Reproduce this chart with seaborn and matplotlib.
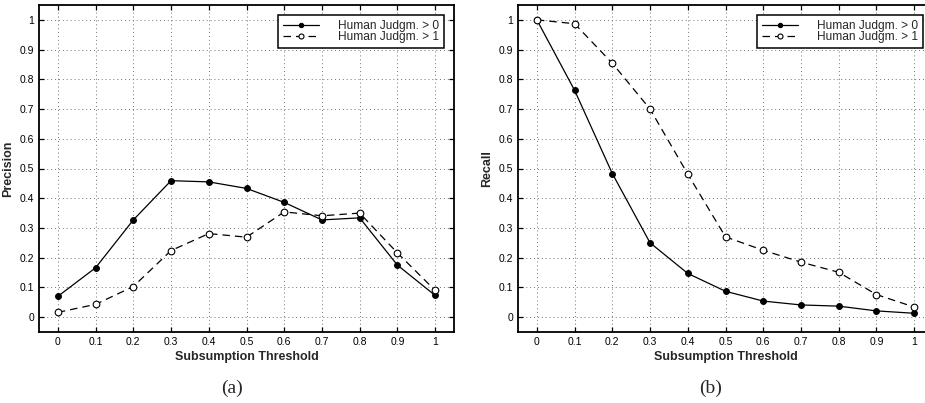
import numpy as np
import pandas as pd
import matplotlib
matplotlib.use("Agg")
import matplotlib.pyplot as plt
from matplotlib import font_manager
import seaborn as sns

thresholds = [0, 0.1, 0.2, 0.3, 0.4, 0.5, 0.6, 0.7, 0.8, 0.9, 1.0]
tick_labels = ["0", "0.1", "0.2", "0.3", "0.4", "0.5", "0.6", "0.7", "0.8", "0.9", "1"]
series_names = ["Human Judgm. > 0", "Human Judgm. > 1"]

precision_gt0 = [0.070, 0.166, 0.327, 0.459, 0.455, 0.433, 0.386, 0.327, 0.334, 0.175, 0.073]
precision_gt1 = [0.016, 0.043, 0.103, 0.224, 0.281, 0.269, 0.354, 0.341, 0.350, 0.216, 0.090]
recall_gt0 = [1.000, 0.763, 0.483, 0.250, 0.147, 0.087, 0.054, 0.041, 0.037, 0.021, 0.013]
recall_gt1 = [1.000, 0.987, 0.854, 0.700, 0.481, 0.270, 0.225, 0.185, 0.151, 0.076, 0.034]

sns.set_style("ticks")


def have(fam):
    try:
        font_manager.findfont(font_manager.FontProperties(family=fam), fallback_to_default=False)
        return True
    except Exception:
        return False


narrow = "Liberation Sans Narrow" if have("Liberation Sans Narrow") else "Liberation Sans"
plt.rcParams["font.family"] = ["Liberation Sans", "DejaVu Sans"]

fig = plt.figure(figsize=(9.25, 4.03), dpi=100)
ax_a = fig.add_axes([39 / 925, 71 / 403, 415 / 925, 327 / 403])
ax_b = fig.add_axes([518 / 925, 71 / 403, 415 / 925, 327 / 403])


def draw(ax, y0, y1, ylabel):
    df = pd.DataFrame({"x": thresholds * 2,
                       "y": list(y0) + list(y1),
                       "series": [series_names[0]] * len(thresholds) + [series_names[1]] * len(thresholds)})
    sns.lineplot(data=df[df.series == series_names[0]], x="x", y="y", ax=ax,
                 color="black", lw=0.9, marker="o", markersize=4.2,
                 markerfacecolor="black", markeredgecolor="black",
                 label=series_names[0], zorder=3)
    sns.lineplot(data=df[df.series == series_names[1]], x="x", y="y", ax=ax,
                 color="black", lw=0.9, marker="o", markersize=4.8,
                 markerfacecolor="white", markeredgecolor="black", markeredgewidth=0.8,
                 dashes=False, label=series_names[1], zorder=3)
    ax.lines[1].set_dashes([6, 4])
    ax.set_xlim(-0.05, 1.05)
    ax.set_ylim(-0.05, 1.05)
    ax.set_xticks(thresholds)
    ax.set_xticklabels(tick_labels)
    ax.set_yticks(thresholds)
    ax.set_yticklabels(tick_labels)
    for lab in ax.get_xticklabels() + ax.get_yticklabels():
        lab.set_fontfamily(narrow)
        lab.set_fontsize(7.5)
    ax.tick_params(direction="in", length=3.5, width=0.9, top=True, right=True,
                   pad=3.5, colors="black")
    ax.grid(True, linestyle=(0, (1, 3)), color="0.45", lw=0.7)
    for s in ax.spines.values():
        s.set_visible(True)
        s.set_linewidth(1.3)
        s.set_color("black")
    ax.set_xlabel("Subsumption Threshold", fontfamily=narrow, fontweight="bold", fontsize=9, labelpad=3)
    ax.set_ylabel(ylabel, fontfamily=narrow, fontweight="bold", fontsize=9, labelpad=4)
    leg = ax.legend(loc="upper right",
                    fontsize=8.6, frameon=True, fancybox=False, edgecolor="black",
                    handlelength=3.0, handletextpad=1.6, labelspacing=-0.05,
                    borderpad=0.4, borderaxespad=0.85, framealpha=1, markerscale=0.75)
    leg.get_frame().set_linewidth(1.1)


draw(ax_a, precision_gt0, precision_gt1, "Precision")
draw(ax_b, recall_gt0, recall_gt1, "Recall")

fig.text(232 / 925, 1 - 388 / 403, "(a)", family=["Liberation Serif", "DejaVu Serif"],
         fontsize=14, ha="center", va="center")
fig.text(711 / 925, 1 - 388 / 403, "(b)", family=["Liberation Serif", "DejaVu Serif"],
         fontsize=14, ha="center", va="center")

fig.savefig("out.png", dpi=100)
